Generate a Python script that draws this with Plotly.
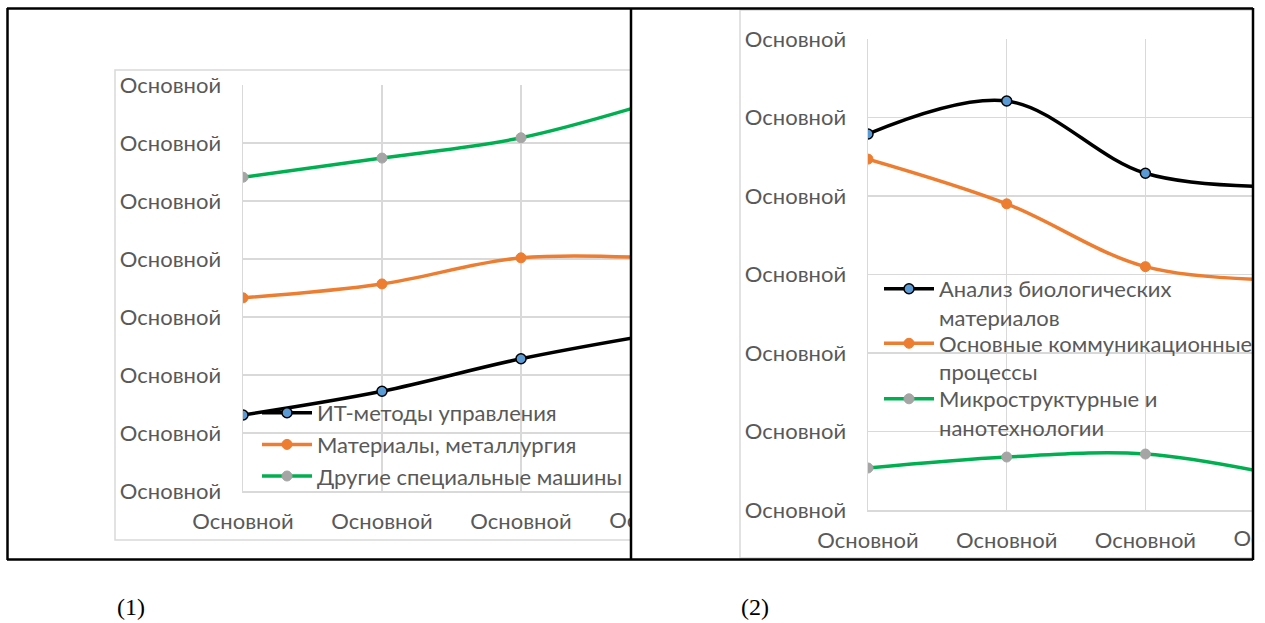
import plotly.graph_objects as go

W, H = 1265, 623

# ---- data -------------------------------------------------------------
categories = [0, 1, 2, 3]
cat_labels = ["Основной", "Основной", "Основной", "Основной"]

left_names = ["ИТ-методы управления", "Материалы, металлургия", "Другие специальные машины"]
left_it = [1.31, 1.72, 2.28, 2.72]
left_materials = [3.33, 3.57, 4.02, 4.01]
left_machines = [5.41, 5.74, 6.09, 6.74]
left_ticks = list(range(8))

right_names = ["Анализ биологических<br>материалов",
               "Основные коммуникационные<br>процессы",
               "Микроструктурные и<br>нанотехнологии"]
right_bio = [4.79, 5.21, 4.29, 4.12]
right_comm = [4.47, 3.90, 3.10, 2.93]
right_nano = [0.535, 0.675, 0.713, 0.43]
right_ticks = list(range(7))

tick_text = "Основной"
captions = ["(1)", "(2)"]

# ---- styling ------------------------------------------------------------
FONT = "Lato"
TXT = "#595959"
GRID = "#d9d9d9"
FS = 22
styles = [
    dict(line=dict(color="black", width=3.5), marker=dict(color="#5b9bd5", size=10, line=dict(color="black", width=1.5))),
    dict(line=dict(color="#ed7d31", width=3.5), marker=dict(color="#ed7d31", size=10, line=dict(color="#ed7d31", width=1))),
    dict(line=dict(color="#00b050", width=3.5), marker=dict(color="#a5a5a5", size=10, line=dict(color="#a5a5a5", width=1))),
]


def px_x(x):
    return x / W


def px_y(y):
    return 1 - y / H


# plot areas (pixel geometry of each panel)
L_X0, L_X1, L_Y0, L_Y1, L_STEP = 243, 631, 85, 491, 139.0
R_X0, R_X1, R_Y0, R_Y1, R_STEP = 868, 1253, 39, 510, 138.7
L_XRANGE = [0, (L_X1 - L_X0) / L_STEP]
R_XRANGE = [0, (R_X1 - R_X0) / R_STEP]

fig = go.Figure()

for i, (name, vals) in enumerate(zip(left_names, [left_it, left_materials, left_machines])):
    fig.add_trace(go.Scatter(
        x=categories, y=vals, name=name, mode="lines+markers",
        line=dict(shape="spline", smoothing=1, **styles[i]["line"]),
        marker=styles[i]["marker"], xaxis="x", yaxis="y",
        legend="legend", legendgroup=f"l{i}", showlegend=True,
    ))

# each entry of the second panel's key gets its own legend box
right_legends = ["legend2", "legend3", "legend4"]
for i, (name, vals) in enumerate(zip(right_names, [right_bio, right_comm, right_nano])):
    fig.add_trace(go.Scatter(
        x=categories, y=vals, name=name, mode="lines+markers",
        line=dict(shape="spline", smoothing=1, **styles[i]["line"]),
        marker=styles[i]["marker"], xaxis="x2", yaxis="y2",
        legend=right_legends[i], showlegend=True,
    ))

# category labels lying past the cut edge of each panel: drawn as text in a
# thin helper strip under the axis, so they are clipped at the panel edge
fig.add_trace(go.Scatter(x=categories[3:], y=[0.5], mode="text", text=cat_labels[3:],
                         textfont=dict(family=FONT, size=FS, color=TXT), cliponaxis=True,
                         xaxis="x3", yaxis="y3", showlegend=False, hoverinfo="skip"))
fig.add_trace(go.Scatter(x=categories[3:], y=[0.5], mode="text", text=cat_labels[3:],
                         textfont=dict(family=FONT, size=FS, color=TXT), cliponaxis=True,
                         xaxis="x4", yaxis="y4", showlegend=False, hoverinfo="skip"))

axis_common = dict(
    showgrid=True, gridcolor=GRID, gridwidth=1.5,
    showline=True, linecolor=GRID, linewidth=1.5,
    zeroline=False, ticks="", tickfont=dict(family=FONT, size=FS, color=TXT),
    fixedrange=True, automargin=False,
)
helper_axis = dict(visible=False, showgrid=False, zeroline=False, fixedrange=True, automargin=False)

legend_common = dict(xanchor="left", yanchor="top", bgcolor="rgba(0,0,0,0)",
                     font=dict(family=FONT, size=FS, color=TXT), itemwidth=50)

fig.update_layout(
    width=W, height=H, autosize=False,
    margin=dict(l=0, r=0, t=0, b=0, autoexpand=False),
    paper_bgcolor="white", plot_bgcolor="rgba(0,0,0,0)",
    font=dict(family=FONT, color=TXT),
    showlegend=True,
    xaxis=dict(domain=[px_x(L_X0), px_x(L_X1)], range=L_XRANGE,
               tickvals=categories, ticktext=cat_labels, anchor="y",
               ticklabelstandoff=10, **axis_common),
    yaxis=dict(domain=[px_y(L_Y1), px_y(L_Y0)], range=[0, len(left_ticks) - 1],
               tickvals=left_ticks, ticktext=[tick_text] * len(left_ticks), anchor="x",
               ticklabelstandoff=16, **axis_common),
    xaxis2=dict(domain=[px_x(R_X0), px_x(R_X1)], range=R_XRANGE,
                tickvals=categories, ticktext=cat_labels, anchor="y2",
                ticklabelstandoff=10, **axis_common),
    yaxis2=dict(domain=[px_y(R_Y1), px_y(R_Y0)], range=[0, len(right_ticks) - 1],
                tickvals=right_ticks, ticktext=[tick_text] * len(right_ticks), anchor="x2",
                ticklabelstandoff=16, **axis_common),
    xaxis3=dict(domain=[px_x(L_X0), px_x(L_X1)], range=L_XRANGE, anchor="y3", **helper_axis),
    yaxis3=dict(domain=[px_y(540), px_y(504)], range=[0, 1], anchor="x3", **helper_axis),
    xaxis4=dict(domain=[px_x(R_X0), px_x(R_X1)], range=R_XRANGE, anchor="y4", **helper_axis),
    yaxis4=dict(domain=[px_y(558), px_y(523)], range=[0, 1], anchor="x4", **helper_axis),
    legend=dict(x=px_x(257), y=px_y(392), tracegroupgap=0, valign="middle", **legend_common),
    legend2=dict(x=px_x(879), y=px_y(268), valign="top", **legend_common),
    legend3=dict(x=px_x(879), y=px_y(322.5), valign="top", **legend_common),
    legend4=dict(x=px_x(879), y=px_y(378), valign="top", **legend_common),
)

shapes = []
# chart-area frames
shapes.append(dict(type="rect", xref="paper", yref="paper",
                   x0=px_x(115), x1=px_x(631), y0=px_y(540), y1=px_y(70),
                   line=dict(color=GRID, width=1.5), fillcolor="rgba(0,0,0,0)", layer="below"))
shapes.append(dict(type="rect", xref="paper", yref="paper",
                   x0=px_x(740), x1=px_x(1253), y0=px_y(558), y1=px_y(10),
                   line=dict(color=GRID, width=1.5), fillcolor="rgba(0,0,0,0)", layer="below"))
# table frame around the two panels
for (x0, y0, x1, y1) in [(7, 8.5, 1253, 8.5), (7, 559.5, 1253, 559.5),
                         (7.5, 8, 7.5, 560), (631, 8, 631, 560), (1253, 8, 1253, 560)]:
    shapes.append(dict(type="line", xref="paper", yref="paper",
                       x0=px_x(x0), x1=px_x(x1), y0=px_y(y0), y1=px_y(y1),
                       line=dict(color="black", width=2.5), layer="above"))
fig.update_layout(shapes=shapes)

annotations = [
    dict(x=px_x(131), y=px_y(607), xref="paper", yref="paper", text=captions[0], showarrow=False,
         xanchor="center", yanchor="middle", font=dict(family="Liberation Serif", size=24, color="black")),
    dict(x=px_x(755), y=px_y(607), xref="paper", yref="paper", text=captions[1], showarrow=False,
         xanchor="center", yanchor="middle", font=dict(family="Liberation Serif", size=24, color="black")),
]
fig.update_layout(annotations=annotations)

fig.write_html("out.html", config=dict(displayModeBar=False, staticPlot=True))
